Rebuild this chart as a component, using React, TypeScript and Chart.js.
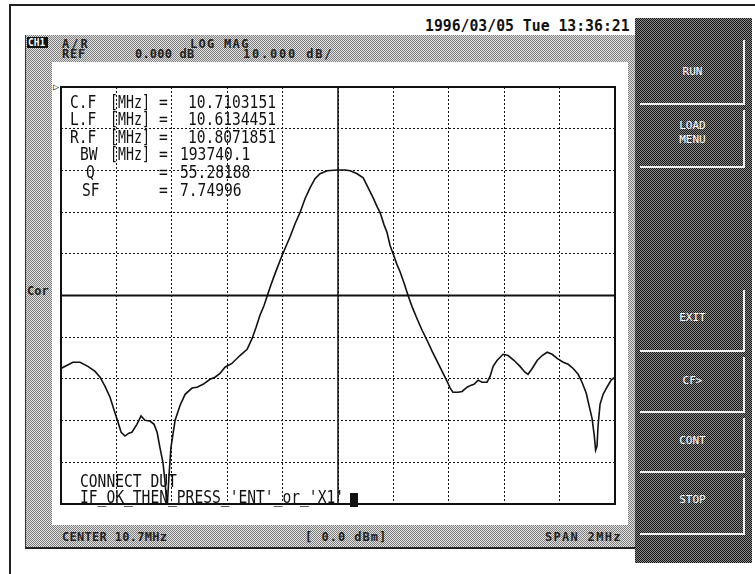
import React, { useEffect, useRef } from "react";
import { Chart, registerables } from "chart.js";

Chart.register(...registerables);

// ---------------- data ----------------
const FREQ_MHZ = [
  9.700, 9.743, 9.769, 9.797, 9.823, 9.841, 9.859, 9.877, 9.895, 9.906,
  9.917, 9.931, 9.945, 9.956, 9.974, 9.989, 10.003, 10.021, 10.036, 10.047,
  10.057, 10.068, 10.075, 10.081, 10.084, 10.090, 10.097, 10.112, 10.130, 10.148,
  10.173, 10.191, 10.213, 10.238, 10.256, 10.274, 10.292, 10.317, 10.346, 10.372,
  10.390, 10.404, 10.418, 10.433, 10.444, 10.458, 10.473, 10.498, 10.527, 10.545,
  10.563, 10.581, 10.599, 10.617, 10.635, 10.661, 10.697, 10.726, 10.744, 10.769,
  10.791, 10.809, 10.827, 10.841, 10.852, 10.866, 10.877, 10.888, 10.899, 10.913,
  10.924, 10.939, 10.953, 10.967, 10.985, 11.004, 11.022, 11.040, 11.058, 11.076,
  11.094, 11.105, 11.115, 11.134, 11.148, 11.166, 11.181, 11.191, 11.206, 11.220,
  11.238, 11.249, 11.260, 11.274, 11.296, 11.314, 11.336, 11.357, 11.375, 11.386,
  11.401, 11.419, 11.437, 11.455, 11.473, 11.491, 11.513, 11.531, 11.549, 11.567,
  11.581, 11.596, 11.606, 11.617, 11.625, 11.630, 11.635, 11.639, 11.646, 11.657,
  11.671, 11.686, 11.700,
];
const MAG_DB = [
  -17.5, -16.0, -16.0, -17.0, -18.2, -19.6, -21.8, -24.4, -28.2, -30.4,
  -32.8, -33.7, -33.0, -32.8, -30.9, -28.9, -29.9, -30.1, -30.9, -32.8,
  -36.4, -40.0, -44.3, -49.0, -50.0, -43.1, -36.4, -29.9, -26.3, -23.7,
  -22.2, -22.0, -21.3, -20.1, -19.6, -18.7, -17.2, -16.3, -14.4, -12.9,
  -10.3, -7.7, -4.8, -2.4, -0.2, 2.6, 5.3, 9.6, 14.1, 17.2,
  19.9, 23.2, 25.8, 28.0, 29.2, 29.9, 30.1, 30.1, 29.9, 29.2,
  28.2, 25.8, 23.4, 21.3, 19.9, 17.0, 15.1, 12.0, 10.0, 7.4,
  5.7, 2.9, 0.0, -2.6, -5.5, -8.4, -10.8, -13.4, -15.8, -18.2,
  -20.6, -22.2, -23.2, -23.2, -23.0, -22.0, -21.5, -21.3, -20.3, -20.8,
  -20.8, -19.4, -17.0, -15.6, -14.1, -14.4, -15.6, -17.0, -18.4, -18.9,
  -17.5, -15.6, -14.4, -13.6, -14.1, -15.1, -16.0, -16.5, -17.5, -18.9,
  -20.8, -23.4, -26.3, -29.4, -33.5, -37.1, -36.1, -31.1, -26.1, -23.7,
  -22.0, -20.3, -19.6,
];
const CENTER_MHZ = 10.7;
const SPAN_MHZ = 2;
const REF_DB = 0;
const X_TICKS = [9.7, 9.9, 10.1, 10.3, 10.5, 10.7, 10.9, 11.1, 11.3, 11.5, 11.7];
const Y_TICKS = [-50, -40, -30, -20, -10, 0, 10, 20, 30, 40, 50];

const MARKER_LABELS = ["C.F", "L.F", "R.F", "BW", "Q", "SF"];
const MARKER_UNITS = ["[MHz]", "[MHz]", "[MHz]", "[MHz]", "", ""];
const MARKER_VALUES = ["10.7103151", "10.6134451", "10.8071851", "193740.1", "55.28188", "7.74996"];

const SOFTKEYS = ["RUN", "LOAD\nMENU", "EXIT", "CF>", "CONT", "STOP"];

// ---------------- layout helpers ----------------
const MONO = '"DejaVu Sans Mono", "Liberation Mono", monospace';
const LIGHT_HATCH = "repeating-conic-gradient(#7d7d7d 0% 25%, #e2e2e2 0% 50%) 0 0 / 2px 2px";
const DARK_HATCH = "repeating-conic-gradient(#151515 0% 25%, #8a8a8a 0% 50%) 0 0 / 2px 2px";

type TP = {
  x: number; y: number; text: string; size?: number; sx?: number; color?: string;
  weight?: number; ls?: number; bg?: string;
};
function Txt({ x, y, text, size = 17, sx = 0.86, color = "#111", weight = 400, ls = 0, bg }: TP) {
  return (
    <div
      style={{
        position: "absolute", left: x, top: y - size * 0.52, fontFamily: MONO, fontSize: size,
        lineHeight: 1, whiteSpace: "pre", color, fontWeight: weight, letterSpacing: ls,
        transform: `scaleX(${sx})`, transformOrigin: "left center", background: bg,
      }}
    >
      {text}
    </div>
  );
}

const framePlugin = {
  id: "frame",
  afterDatasetsDraw(chart: any) {
    const { ctx, chartArea: a } = chart;
    ctx.save();
    ctx.strokeStyle = "#111";
    ctx.lineWidth = 2;
    ctx.strokeRect(a.left, a.top, a.right - a.left, a.bottom - a.top);
    ctx.restore();
  },
};

function Plot() {
  const ref = useRef<HTMLCanvasElement | null>(null);
  useEffect(() => {
    if (!ref.current) return;
    const trace = FREQ_MHZ.map((f, i) => ({ x: f, y: MAG_DB[i] }));
    const xMin = CENTER_MHZ - SPAN_MHZ / 2;
    const xMax = CENTER_MHZ + SPAN_MHZ / 2;
    const yMin = Y_TICKS[0];
    const yMax = Y_TICKS[Y_TICKS.length - 1];
    const chart = new Chart(ref.current, {
      type: "line",
      data: {
        datasets: [
          { data: trace, borderColor: "#111", borderWidth: 1.6, pointRadius: 0, tension: 0 },
          { data: [{ x: CENTER_MHZ, y: yMin }, { x: CENTER_MHZ, y: yMax }], borderColor: "#111", borderWidth: 1.5, pointRadius: 0 },
          { data: [{ x: xMin, y: REF_DB }, { x: xMax, y: REF_DB }], borderColor: "#111", borderWidth: 2, pointRadius: 0 },
        ],
      },
      options: {
        animation: false,
        responsive: false,
        events: [],
        layout: { padding: 5 },
        plugins: { legend: { display: false }, tooltip: { enabled: false } },
        scales: {
          x: {
            type: "linear", min: xMin, max: xMax,
            afterBuildTicks: (axis: any) => { axis.ticks = X_TICKS.map((v) => ({ value: v })); },
            ticks: { display: false },
            grid: { color: "#111", lineWidth: 1, drawTicks: false },
            border: { display: false, dash: [2, 2] },
          },
          y: {
            type: "linear", min: yMin, max: yMax,
            afterBuildTicks: (axis: any) => { axis.ticks = Y_TICKS.map((v) => ({ value: v })); },
            ticks: { display: false },
            grid: { color: "#111", lineWidth: 1, drawTicks: false },
            border: { display: false, dash: [2, 2] },
          },
        },
      } as any,
      plugins: [framePlugin],
    });
    return () => chart.destroy();
  }, []);
  return (
    <canvas
      ref={ref}
      width={564}
      height={427}
      style={{ position: "absolute", left: 56, top: 82, width: 564, height: 427 }}
    />
  );
}

const ROW_Y = [103, 120, 138, 155, 173, 191];
const LABEL_X = [70, 70, 70, 80, 86, 82];
const VALUE_X = [188, 188, 188, 180, 180, 180];
const KEY_BOXES = [
  { top: 40, bottom: 105, ty: [72] },
  { top: 110, bottom: 168, ty: [126, 140] },
  { top: 290, bottom: 352, ty: [318] },
  { top: 357, bottom: 413, ty: [381] },
  { top: 418, bottom: 473, ty: [441] },
  { top: 478, bottom: 535, ty: [500] },
];

export default function App() {
  return (
    <div style={{ position: "fixed", left: 0, top: 0, width: 755, height: 574, background: "#fff", overflow: "hidden" }}>
      {/* page border lines */}
      <div style={{ position: "absolute", left: 9, top: 4, width: 746, height: 2, background: "#222" }} />
      <div style={{ position: "absolute", left: 9, top: 4, width: 2, height: 570, background: "#222" }} />

      {/* date */}
      <Txt x={425} y={27} text="1996/03/05 Tue 13:36:21" size={15} sx={0.985} weight={700} />

      {/* light hatched instrument frame */}
      <div style={{ position: "absolute", left: 25, top: 35, width: 612, height: 512, background: LIGHT_HATCH, borderLeft: "1px solid #333", borderBottom: "2px solid #222" }} />
      {/* white screen */}
      <div style={{ position: "absolute", left: 52, top: 62, width: 576, height: 463, background: "#fff" }} />

      {/* header */}
      <div style={{ position: "absolute", left: 27, top: 37, width: 21, height: 11, background: "#111" }} />
      <Txt x={28} y={43} text="CH1" size={10} sx={0.95} weight={700} color="#fff" />
      <Txt x={62} y={44} text="A/R" size={12} sx={1} weight={700} ls={2} color="#222" />
      <Txt x={190} y={44} text="LOG MAG" size={12} sx={1} weight={700} ls={1.3} color="#222" />
      <Txt x={62} y={54} text="REF" size={12} sx={1} weight={700} ls={0.8} color="#222" />
      <Txt x={135} y={54} text="0.000 dB" size={12} sx={1} weight={700} ls={0.2} color="#222" />
      <Txt x={243} y={54} text="10.000 dB/" size={12} sx={1} weight={700} ls={1.8} color="#222" />

      {/* reference marker and Cor */}
      <Txt x={53} y={87} text="▷" size={10} sx={1} color="#111" />
      <Txt x={27} y={291} text="Cor" size={12} sx={1} weight={700} color="#222" />

      {/* footer */}
      <Txt x={62} y={537} text="CENTER 10.7MHz" size={12} sx={1} weight={700} ls={0.3} color="#222" />
      <Txt x={305} y={537} text="[ 0.0 dBm]" size={12} sx={1} weight={700} ls={1} color="#222" />
      <Txt x={545} y={537} text="SPAN 2MHz" size={12} sx={1} weight={700} ls={1.3} color="#222" />

      {/* chart */}
      <Plot />

      {/* marker readout */}
      {MARKER_LABELS.map((l, i) => (
        <React.Fragment key={l}>
          <Txt x={LABEL_X[i]} y={ROW_Y[i]} text={l} />
          {MARKER_UNITS[i] ? <Txt x={110} y={ROW_Y[i]} text={MARKER_UNITS[i]} sx={0.78} /> : null}
          <Txt x={159} y={ROW_Y[i]} text="=" />
          <Txt x={VALUE_X[i]} y={ROW_Y[i]} text={MARKER_VALUES[i]} />
        </React.Fragment>
      ))}

      {/* prompt */}
      <Txt x={80} y={482} text="CONNECT DUT" />
      <Txt x={80} y={498} text="IF_OK_THEN_PRESS_'ENT'_or_'X1'" />
      <div style={{ position: "absolute", left: 350, top: 493, width: 8, height: 14, background: "#111" }} />

      {/* softkey panel */}
      <div style={{ position: "absolute", left: 635, top: 18, width: 117, height: 545, background: DARK_HATCH }} />
      {KEY_BOXES.map((b, i) => (
        <React.Fragment key={i}>
          <div style={{ position: "absolute", left: 640, top: b.top, width: 103, height: b.bottom - b.top - 2, borderRight: "2px solid #f2f2f2", borderBottom: "2px solid #f2f2f2" }} />
          {SOFTKEYS[i].split("\n").map((s, j) => (
            <div key={j} style={{ position: "absolute", left: 640, width: 105, top: b.ty[j] - 6, textAlign: "center", color: "#fff", fontFamily: MONO, fontSize: 11, lineHeight: 1, fontWeight: 400 }}>
              {s}
            </div>
          ))}
        </React.Fragment>
      ))}
    </div>
  );
}
